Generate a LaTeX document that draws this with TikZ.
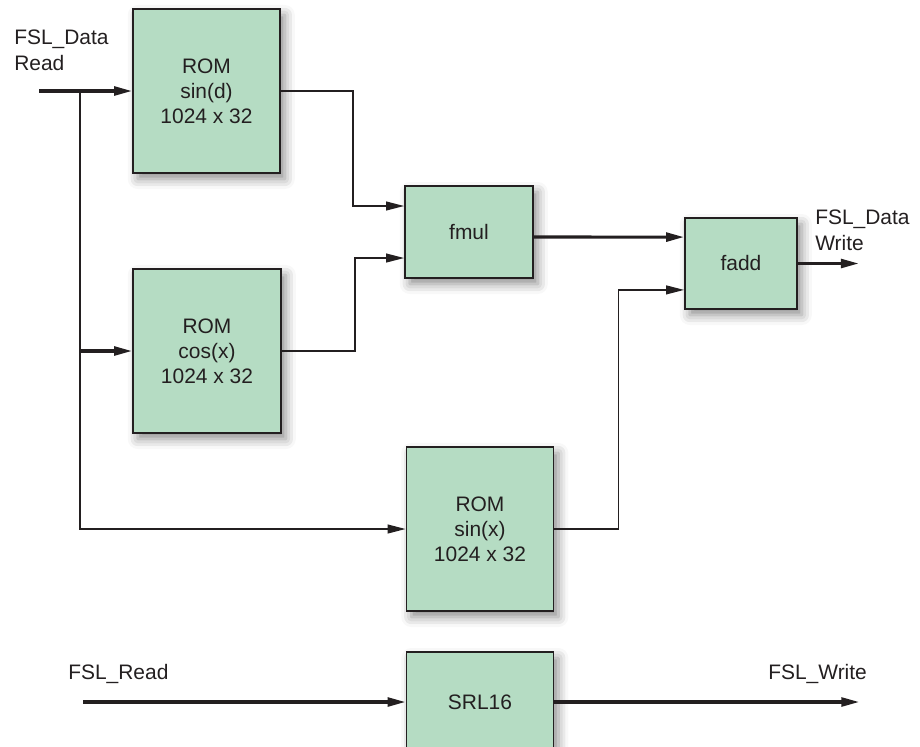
\documentclass[tikz,border=0pt]{standalone}
\usepackage{fontspec}
\setmainfont{Liberation Sans}
\usetikzlibrary{arrows.meta,shadows.blur}

\definecolor{romfill}{RGB}{181,220,195}
\definecolor{ink}{RGB}{35,31,32}

\tikzset{
  block/.style={draw=ink, line width=1.2pt, fill=romfill, align=center, inner sep=0pt,
    font=\fontsize{14.9}{17.8}\selectfont, text=ink,
    blur shadow={shadow xshift=0.12cm, shadow yshift=-0.15cm,
      shadow blur radius=0.25cm, shadow opacity=45}},
  lbl/.style={inner sep=0pt, align=left, text=ink,
    font=\fontsize{14.9}{17.8}\selectfont},
  wire/.style={draw=ink, line width=1.1pt},
  bus/.style={draw=ink, line width=2.2pt},
  tip/.style={-{Triangle[length=0.45cm,width=0.22cm]}}
}

\begin{document}
\begin{tikzpicture}[x=0.025cm, y=-0.025cm]
  \useasboundingbox (0,0) rectangle (920,746);

  % blocks
  \node[block, minimum width=3.675cm, minimum height=4.1cm] (sind) at (206.5,91) {ROM\\sin(d)\\1024 x 32};
  \node[block, minimum width=3.7cm, minimum height=4.1cm] (cosx) at (207,351) {ROM\\cos(x)\\1024 x 32};
  \node[block, minimum width=3.675cm, minimum height=4.1cm] (sinx) at (480,529) {ROM\\sin(x)\\1024 x 32};
  \node[block, minimum width=3.2cm, minimum height=2.3cm] (fmul) at (469,232) {fmul};
  \node[block, minimum width=2.8cm, minimum height=2.275cm] (fadd) at (741,263.5) {fadd};
  \node[block, minimum width=3.675cm, minimum height=2.5cm] (srl) at (480,702) {SRL16};

  % labels (base = last line)
  \node[lbl, anchor=base west] (datard) at (14,70) {FSL\_Data\\Read};
  \node[lbl, anchor=base west] (datawr) at (815,250) {FSL\_Data\\Write};
  \node[lbl, anchor=base west] (fslrd) at (68,679) {FSL\_Read};
  \node[lbl, anchor=base west] (fslwr) at (768,679) {FSL\_Write};

  \coordinate (din) at (39,91);
  \coordinate (tap) at (80,91);
  \coordinate (srlin) at (83,702);

  % data path
  \draw[bus, tip] (din) -- (sind.west);
  \draw[wire, tip] (tap) |- (sinx.west);
  \draw[bus, tip] (tap |- cosx.west) -- (cosx.west);
  \draw[wire, tip] (sind.east) -- ++(72,0) |- ([yshift=0.65cm]fmul.west);
  \draw[wire, tip] (cosx.east) -- ++(73,0) |- ([yshift=-0.65cm]fmul.west);
  \draw[wire, tip] (sinx.east) -- ++(64,0) |- ([yshift=-0.66cm]fadd.west);
  \draw[bus, tip] ([yshift=-0.125cm]fmul.east) -- ([yshift=0.66cm]fadd.west);
  \draw[bus, tip] (fadd.east) -- ++(61,0);

  % shift register
  \draw[bus, tip] (srlin) -- (srl.west);
  \draw[bus, tip] (srl.east) -- ++(305,0);
\end{tikzpicture}
\end{document}
